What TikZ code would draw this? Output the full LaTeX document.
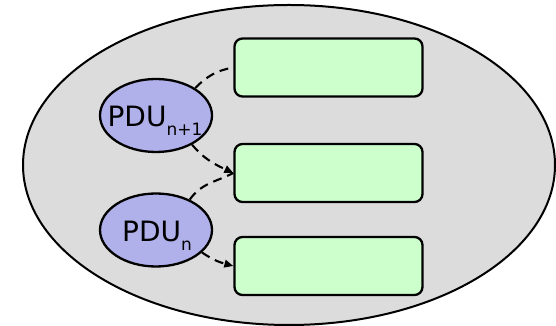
\documentclass[tikz,border=0pt]{standalone}
\usepackage{fontspec}
\setmainfont{DejaVu Sans}
\usetikzlibrary{arrows.meta,shapes.geometric}
\definecolor{cloudgray}{RGB}{220,220,220}
\definecolor{boxgreen}{RGB}{204,255,204}
\definecolor{pdublue}{RGB}{176,176,234}
\tikzset{
  outer/.style={ellipse, draw=black, line width=2pt, fill=cloudgray,
    minimum width=532pt, minimum height=320pt, inner sep=0pt},
  pdu/.style={ellipse, draw=black, line width=2.3pt, fill=pdublue,
    minimum width=112pt, minimum height=73pt, inner sep=0pt},
  slot/.style={rectangle, rounded corners=8pt, draw=black, line width=2.3pt,
    fill=boxgreen, minimum width=188pt, minimum height=58pt, inner sep=0pt},
  pdutext/.style={inner sep=0pt, font=\fontsize{28}{28}\selectfont,
    text height=20.4pt, text depth=0pt},
  conn/.style={line width=2.1pt, dash pattern=on 9pt off 6pt},
  tip/.style={-{Triangle[length=9pt,width=7.5pt]}}
}
% subscript text set by hand, lowered below the baseline
\newcommand{\subtxt}[1]{\raisebox{-9.3pt}{\fontsize{17}{17}\selectfont #1}}
\begin{document}
\begin{tikzpicture}[x=1pt,y=1pt]
  \useasboundingbox (0,0) rectangle (556,326);
  \node[outer] (cloud) at (289,161) {};

  \node[slot] (box1) at (328.5,258.5) {};
  \node[slot] (box2) at (328.5,153) {};
  \node[slot] (box3) at (328.5,60) {};

  \node[pdu] (pdu1) at (156,210.5) {};
  \node[pdu] (pdu2) at (156,96) {};
  \node[pdutext] (lab1) at (155,209.6) {PDU\subtxt{n+1}};
  \node[pdutext] (lab2) at (157,94.7) {PDU\subtxt{n}};

  \draw[conn] (pdu1.35) to[out=45,in=190] (box1.west);
  \draw[conn,tip] (pdu1.-39) to[out=-50,in=155] (box2.west);
  \draw[conn] (pdu2.42) to[out=55,in=207] (box2.west);
  \draw[conn,tip] (pdu2.-26) to[out=-35,in=165] (box3.west);
\end{tikzpicture}
\end{document}
